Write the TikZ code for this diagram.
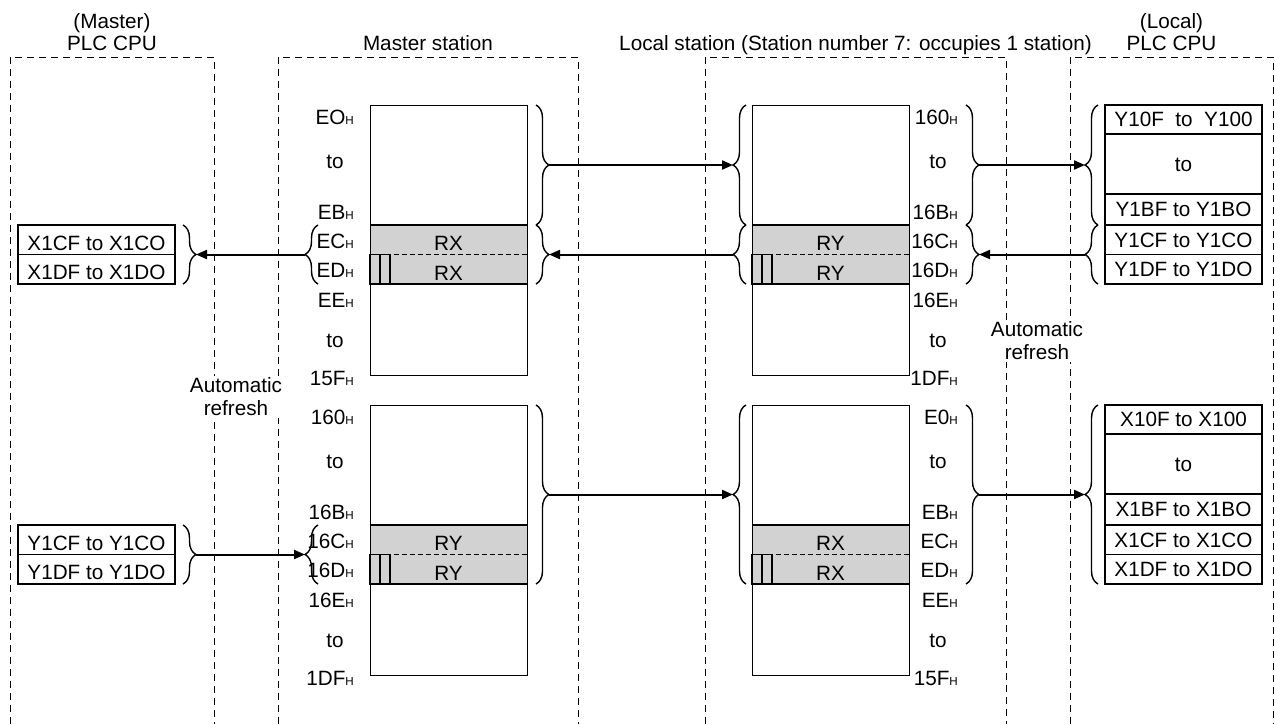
\documentclass[tikz,border=0pt]{standalone}
\usepackage{fontspec}
\setmainfont{Liberation Sans}
\usetikzlibrary{arrows.meta,decorations.pathreplacing}
\definecolor{shadegray}{RGB}{210,210,210}
\newcommand{\Hs}{{\fontsize{11.6}{12}\selectfont H}}
% memory block: #1 name, #2 x centre, #3 y top, #4 band text
\newcommand{\memblock}[4]{%
  \node[band] (#1b) at (#2,#3+149.5) {};
  \node[mem] (#1) at (#2,#3+135) {};
  \draw[line width=2pt] (#1b.north west) -- (#1b.north east);
  \draw[line width=2pt] (#1b.south west) -- (#1b.south east);
  \draw[line width=1.3pt, dash pattern=on 5pt off 3pt] (#1b.west) -- (#1b.east);
  \node[bandtxt] (#1t1) at (#2,#3+138.5) {#4};
  \node[bandtxt] (#1t2) at (#2,#3+168) {#4};
  \node[smallbox] (#1s1) at (#2-73.5,#3+164.5) {};
  \node[smallbox] (#1s2) at (#2-63.5,#3+164.5) {};
}
% address labels: #1 prefix, #2 x east, #3 x of "to", #4 y top, #5 list text/dy
\newcommand{\addrlabels}[5]{%
  \foreach \t/\dy [count=\i] in {#5} {\node[lab] (#1\i) at (#2,#4+\dy) {\t\Hs};}
  \node[tolab] (#1toa) at (#3,#4+63) {to};
  \node[tolab] (#1tob) at (#3,#4+242) {to};
}
\begin{document}
\begin{tikzpicture}[x=1pt,y=-1pt,
  every node/.style={font=\fontsize{20.7}{23}\selectfont},
  col/.style={dash pattern=on 7pt off 5pt, line width=0.9pt},
  mem/.style={draw, line width=0.9pt, minimum width=157pt, minimum height=270pt, inner sep=0pt},
  band/.style={fill=shadegray, minimum width=157pt, minimum height=59pt, inner sep=0pt},
  bandtxt/.style={inner sep=0pt, text height=14.8pt, text depth=0pt},
  smallbox/.style={draw, line width=1.2pt, minimum width=10pt, minimum height=30pt, inner sep=0pt},
  cell/.style={draw, line width=1.1pt, minimum width=157pt, inner sep=0pt, text height=14.8pt, text depth=0pt},
  lowcell/.style={cell, text height=20.8pt},
  br/.style={decorate, decoration={brace, amplitude=13pt}, line width=1.4pt},
  arr/.style={-{Triangle[length=11pt,width=9pt]}, line width=2pt},
  lab/.style={anchor=base east, inner sep=0pt},
  tolab/.style={anchor=base, inner sep=0pt},
  ttl/.style={anchor=base, inner sep=0pt},
  auto/.style={align=center, fill=white, inner sep=2pt}
]
\useasboundingbox (0,0) rectangle (1275,724);

% dashed columns
\draw[col] (10,724) -- (10,57) -- (214,57) -- (214,724);
\draw[col] (278,724) -- (278,57) -- (578,57) -- (578,724);
\draw[col] (705,724) -- (705,57) -- (1006,57) -- (1006,724);
\draw[col] (1070,724) -- (1070,57) -- (1273,57) -- (1273,724);

% titles
\node[ttl] (t1) at (112,28) {(Master)};
\node[ttl] (t2) at (112,50) {PLC CPU};
\node[ttl] (t3) at (428,50) {Master station};
\node[ttl] (t4) at (855.5,50) {Local station (Station number 7: occupies 1 station)};
\node[ttl] (t5) at (1171.5,28) {(Local)};
\node[ttl] (t6) at (1171.5,50) {PLC CPU};

% memory blocks
\memblock{mt}{448.5}{105}{RX}
\memblock{mb}{448.5}{405}{RY}
\memblock{lt}{830.5}{105}{RY}
\memblock{lb}{830.5}{405}{RX}

% address labels
\addrlabels{mta}{354}{335}{105}{EO/19, EB/114, EC/143, ED/172, EE/202, 15F/280}
\addrlabels{mba}{354}{335}{405}{160/19, 16B/114, 16C/143, 16D/172, 16E/202, 1DF/280}
\addrlabels{lta}{958}{938}{105}{160/19, 16B/114, 16C/143, 16D/172, 16E/202, 1DF/280}
\addrlabels{lba}{958}{938}{405}{E0/19, EB/114, EC/143, ED/172, EE/202, 15F/280}

% master PLC CPU cells
\node[lowcell, minimum height=29.5pt] (pa1) at (96.5,239.75) {X1CF to X1CO};
\node[lowcell, minimum height=29.5pt] (pa2) at (96.5,269.25) {X1DF to X1DO};
\node[lowcell, minimum height=29.5pt] (pa3) at (96.5,539.75) {Y1CF to Y1CO};
\node[lowcell, minimum height=29.5pt] (pa4) at (96.5,569.25) {Y1DF to Y1DO};

% local PLC CPU cells
\node[cell, minimum height=29pt] (pd1) at (1183.5,119.5) {Y10F~~to~~Y100};
\node[cell, minimum height=60pt] (pd2) at (1183.5,164) {to};
\node[cell, minimum height=31pt] (pd3) at (1183.5,209.5) {Y1BF to Y1BO};
\node[cell, minimum height=29.5pt] (pd4) at (1183.5,239.75) {Y1CF to Y1CO};
\node[cell, minimum height=29.5pt] (pd5) at (1183.5,269.25) {Y1DF to Y1DO};
\node[cell, minimum height=29pt] (pe1) at (1183.5,419.5) {X10F to X100};
\node[cell, minimum height=60pt] (pe2) at (1183.5,464) {to};
\node[cell, minimum height=31pt] (pe3) at (1183.5,509.5) {X1BF to X1BO};
\node[cell, minimum height=29.5pt] (pe4) at (1183.5,539.75) {X1CF to X1CO};
\node[cell, minimum height=29.5pt] (pe5) at (1183.5,569.25) {X1DF to X1DO};

% automatic refresh labels
\node[auto] (ar1) at (236,397) {Automatic\\refresh};
\node[auto] (ar2) at (1037,341) {Automatic\\refresh};

% brace end points and tips
\coordinate (a1s) at (183,225); \coordinate (a1e) at (183,284); \coordinate (aT1) at (196,254.5);
\coordinate (a2s) at (183,525); \coordinate (a2e) at (183,584); \coordinate (aT2) at (196,554.5);
\coordinate (b1s) at (318,284); \coordinate (b1e) at (318,225); \coordinate (bL1) at (305,254.5);
\coordinate (b2s) at (318,584); \coordinate (b2e) at (318,525); \coordinate (bL2) at (305,554.5);
\coordinate (r1s) at (536,105); \coordinate (r1e) at (536,225); \coordinate (bR1) at (549,165);
\coordinate (r2s) at (536,225); \coordinate (r2e) at (536,284); \coordinate (bR2) at (549,254.5);
\coordinate (r3s) at (536,405); \coordinate (r3e) at (536,584); \coordinate (bR3) at (549,494.5);
\coordinate (c1s) at (746,225); \coordinate (c1e) at (746,105); \coordinate (cL1) at (733,165);
\coordinate (c2s) at (746,284); \coordinate (c2e) at (746,225); \coordinate (cL2) at (733,254.5);
\coordinate (c3s) at (746,584); \coordinate (c3e) at (746,405); \coordinate (cL3) at (733,494.5);
\coordinate (e1s) at (966,105); \coordinate (e1e) at (966,225); \coordinate (cR1) at (979,165);
\coordinate (e2s) at (966,225); \coordinate (e2e) at (966,284); \coordinate (cR2) at (979,254.5);
\coordinate (e3s) at (966,405); \coordinate (e3e) at (966,584); \coordinate (cR3) at (979,494.5);
\coordinate (d1s) at (1098,225); \coordinate (d1e) at (1098,105); \coordinate (dL1) at (1085,165);
\coordinate (d2s) at (1098,284); \coordinate (d2e) at (1098,225); \coordinate (dL2) at (1085,254.5);
\coordinate (d3s) at (1098,584); \coordinate (d3e) at (1098,405); \coordinate (dL3) at (1085,494.5);

\foreach \p in {a1,a2,b1,b2,r1,r2,r3,c1,c2,c3,e1,e2,e3,d1,d2,d3}
  \draw[br] (\p s) -- (\p e);

% arrows
\draw[arr] (bR1) -- (cL1);
\draw[arr] (cL2) -- (bR2);
\draw[arr] (bR3) -- (cL3);
\draw[arr] (bL1) -- (aT1);
\draw[arr] (aT2) -- (bL2);
\draw[arr] (cR1) -- (dL1);
\draw[arr] (dL2) -- (cR2);
\draw[arr] (cR3) -- (dL3);
\end{tikzpicture}
\end{document}
